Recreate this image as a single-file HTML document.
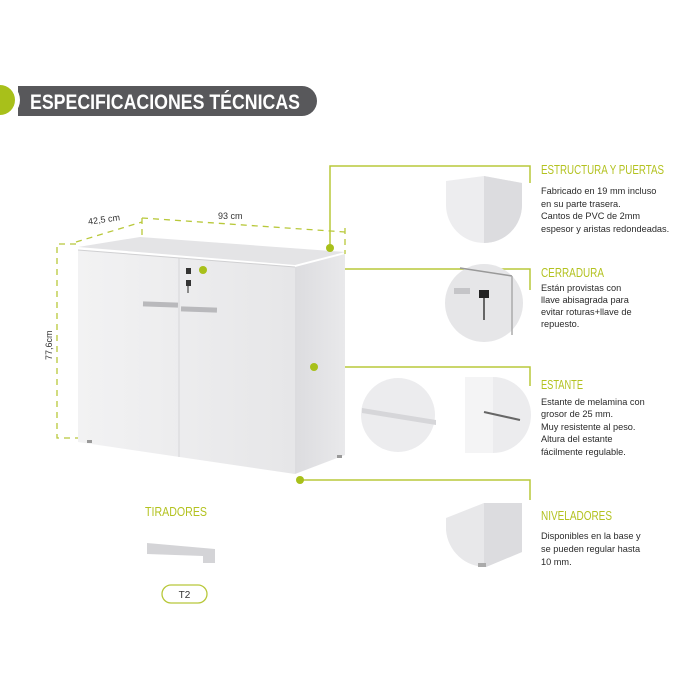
<!DOCTYPE html>
<html><head><meta charset="utf-8"><style>
html,body{margin:0;padding:0;background:#fff;}
svg{display:block;}
.t{font-family:"Liberation Sans",sans-serif;}
.h{font-family:"Liberation Sans",sans-serif;fill:#b3c220;font-size:13px;}
.b{font-family:"Liberation Sans",sans-serif;fill:#2a2a2a;font-size:9.2px;}
</style></head><body>
<svg width="700" height="700" viewBox="0 0 700 700" xmlns="http://www.w3.org/2000/svg">
<defs>
<linearGradient id="cab" x1="0" y1="0" x2="1" y2="0"><stop offset="0" stop-color="#f2f2f3"/><stop offset="1" stop-color="#e6e6e8"/></linearGradient>
<linearGradient id="side" x1="0" y1="0" x2="1" y2="0"><stop offset="0" stop-color="#dcdcdf"/><stop offset="1" stop-color="#e9e9eb"/></linearGradient>
<clipPath id="c1"><path d="M446 181 L484 176 L522 183 L522 205 A38 38 0 0 1 446 205 Z"/></clipPath>
<clipPath id="c4"><path d="M446 530 A40 40 0 0 0 486 567 L522 552 L522 503 L484 503 L446 518 Z"/></clipPath>
</defs>
<!-- header -->
<path d="M18 86 H302 A15 15 0 0 1 302 116 H18 Z" fill="#58585b"/>
<circle cx="2" cy="100" r="18" fill="#fff"/>
<circle cx="0" cy="100" r="15" fill="#a8c01a"/>
<text x="30" y="109" class="t" font-size="21" font-weight="bold" fill="#fff" textLength="270" lengthAdjust="spacingAndGlyphs">ESPECIFICACIONES TÉCNICAS</text>

<!-- connectors -->
<g stroke="#b8c83a" stroke-width="1.5" fill="none">
<path d="M330 248 V166 H530 V183"/>
<path d="M203 269 H530 V290"/>
<path d="M314 367 H530 V386"/>
<path d="M300 480 H530 V500"/>
</g>
<g stroke="#b8c83a" stroke-width="1.3" fill="none" stroke-dasharray="6,5">
<path d="M76 242 L142 222"/>
<path d="M142 218 L345 232"/>
<path d="M345 228 V254"/>
<path d="M142 218 V236"/>
<path d="M76 244 H57 V438 H88"/>
</g>
<text x="88" y="223" class="t" font-size="9" fill="#333" transform="rotate(-8 100 220)">42,5 cm</text>
<text x="218" y="219" class="t" font-size="9" fill="#333">93 cm</text>
<text x="52" y="360" class="t" font-size="9" fill="#333" transform="rotate(-90 52 360)">77,6cm</text>

<!-- cabinet -->
<polygon points="78,247 140,237 345,252 295,265" fill="#e4e4e6"/>
<polygon points="78,250 295,267 295,474 78,442" fill="url(#cab)"/>
<polygon points="295,267 345,254 345,455 295,474" fill="url(#side)"/>
<line x1="179" y1="258" x2="179" y2="457" stroke="#d6d6d8" stroke-width="1"/>
<line x1="78" y1="250" x2="295" y2="267" stroke="#d0d0d2" stroke-width="1"/>
<rect x="143" y="302" width="35" height="5" fill="#b9b9bc" transform="rotate(2 160 304)"/>
<rect x="181" y="307" width="36" height="5" fill="#b9b9bc" transform="rotate(2 200 309)"/>
<rect x="186" y="268" width="5" height="6" fill="#333"/>
<rect x="186" y="280" width="5" height="6" fill="#333"/>
<line x1="188" y1="286" x2="188" y2="293" stroke="#555" stroke-width="1.3"/>
<rect x="87" y="440" width="5" height="3" fill="#999"/>
<rect x="337" y="455" width="5" height="3" fill="#999"/>
<g fill="#a8c01a">
<circle cx="330" cy="248" r="4"/><circle cx="203" cy="270" r="4"/><circle cx="314" cy="367" r="4"/><circle cx="300" cy="480" r="4"/>
</g>

<!-- detail images -->
<g clip-path="url(#c1)"><rect x="440" y="170" width="90" height="80" fill="#ededef"/><rect x="484" y="170" width="40" height="80" fill="#dcdcdf"/></g>
<circle cx="484" cy="303" r="39" fill="#e6e6e8"/>
<line x1="460" y1="268" x2="512" y2="276" stroke="#999" stroke-width="1.5"/>
<line x1="512" y1="276" x2="512" y2="335" stroke="#aaa" stroke-width="1.5"/>
<rect x="454" y="288" width="16" height="6" fill="#c5c5c8"/>
<rect x="479" y="290" width="10" height="8" fill="#222"/>
<line x1="484" y1="298" x2="484" y2="320" stroke="#666" stroke-width="2"/>
<circle cx="398" cy="415" r="37" fill="#ececee"/>
<polygon points="362,408 436,420 436,425 362,413" fill="#d6d6d9"/>
<path d="M493 377 A38 38 0 0 1 493 453 Z" fill="#ececee"/>
<rect x="465" y="377" width="28" height="76" fill="#f4f4f5"/>
<line x1="484" y1="412" x2="520" y2="420" stroke="#666" stroke-width="2"/>
<g clip-path="url(#c4)"><rect x="440" y="500" width="90" height="70" fill="#e8e8ea"/><rect x="484" y="500" width="40" height="70" fill="#dcdcdf"/></g>
<rect x="478" y="563" width="8" height="4" fill="#aaa"/>

<!-- texts right -->
<text x="541" y="174" class="h" textLength="123" lengthAdjust="spacingAndGlyphs">ESTRUCTURA Y PUERTAS</text>
<text class="b"><tspan x="541" y="194">Fabricado en 19 mm incluso</tspan><tspan x="541" y="207">en su parte trasera.</tspan><tspan x="541" y="219">Cantos de PVC de 2mm</tspan><tspan x="541" y="232">espesor y aristas redondeadas.</tspan></text>
<text x="541" y="277" class="h" textLength="63" lengthAdjust="spacingAndGlyphs">CERRADURA</text>
<text class="b"><tspan x="541" y="291">Están provistas con</tspan><tspan x="541" y="303">llave abisagrada para</tspan><tspan x="541" y="315">evitar roturas+llave de</tspan><tspan x="541" y="327">repuesto.</tspan></text>
<text x="541" y="389" class="h" textLength="42" lengthAdjust="spacingAndGlyphs">ESTANTE</text>
<text class="b"><tspan x="541" y="405">Estante de melamina con</tspan><tspan x="541" y="417">grosor de 25 mm.</tspan><tspan x="541" y="430">Muy resistente  al peso.</tspan><tspan x="541" y="442">Altura del estante</tspan><tspan x="541" y="455">fácilmente regulable.</tspan></text>
<text x="541" y="520" class="h" textLength="71" lengthAdjust="spacingAndGlyphs">NIVELADORES</text>
<text class="b"><tspan x="541" y="539">Disponibles en la base y</tspan><tspan x="541" y="552">se pueden regular hasta</tspan><tspan x="541" y="565">10 mm.</tspan></text>

<!-- tiradores -->
<text x="145" y="516" class="h" textLength="62" lengthAdjust="spacingAndGlyphs">TIRADORES</text>
<polygon points="147,543 215,549 215,563 203,563 203,556 147,554" fill="#d4d4d7"/>
<rect x="162" y="585" width="45" height="18" rx="9" fill="#fff" stroke="#b8c83a" stroke-width="1.3"/>
<text x="184.5" y="598" class="t" font-size="10" fill="#333" text-anchor="middle">T2</text>
</svg>
</body></html>
